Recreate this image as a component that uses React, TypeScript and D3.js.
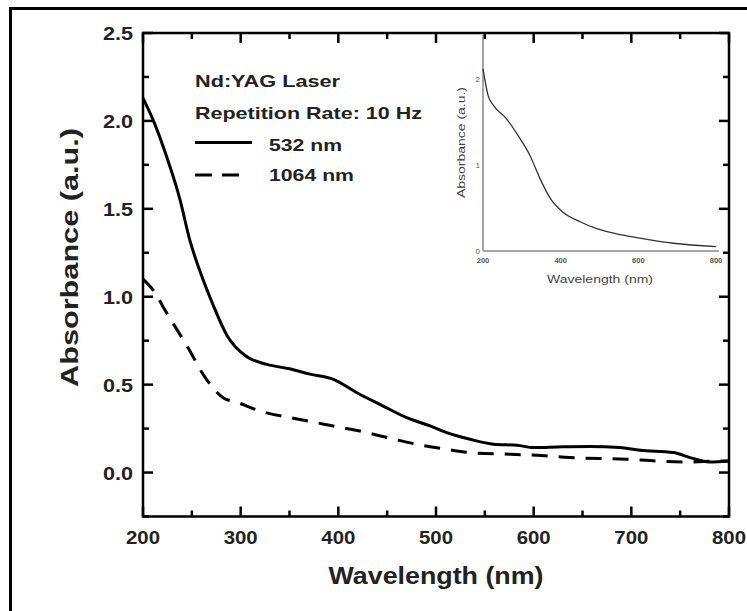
import React from 'react';
import { scaleLinear, line, curveMonotoneX, range } from 'd3';

// main chart: solid = 532 nm, dashed = 1064 nm
const wl532 = [200, 210, 224, 238, 248, 258, 272, 286, 306, 327, 350, 371, 395, 419, 446, 470, 494, 511, 535, 559, 583, 600, 630, 658, 688, 709, 743, 760, 780, 800];
const abs532 = [2.13, 2.01, 1.8, 1.55, 1.32, 1.15, 0.95, 0.78, 0.66, 0.615, 0.59, 0.56, 0.53, 0.454, 0.378, 0.312, 0.265, 0.227, 0.189, 0.161, 0.155, 0.142, 0.147, 0.148, 0.142, 0.127, 0.114, 0.085, 0.06, 0.066];
const wl1064 = [200, 210, 224, 245, 265, 282, 296, 320, 358, 391, 422, 450, 480, 511, 542, 576, 603, 637, 695, 726, 757, 791, 800];
const abs1064 = [1.1, 1.04, 0.91, 0.72, 0.53, 0.426, 0.4, 0.35, 0.305, 0.269, 0.236, 0.199, 0.161, 0.132, 0.11, 0.104, 0.098, 0.085, 0.076, 0.066, 0.06, 0.066, 0.066];

// inset spectrum
const insetWl = [200, 213, 226, 260, 295, 320, 346, 372, 406, 450, 493, 544, 604, 690, 800];
const insetAbs = [2.12, 1.81, 1.7, 1.54, 1.31, 1.12, 0.85, 0.62, 0.45, 0.34, 0.26, 0.2, 0.15, 0.09, 0.05];

const xTicks = [200, 300, 400, 500, 600, 700, 800];
const yTicks = [0, 0.5, 1, 1.5, 2, 2.5];
const insetXTicks = [200, 400, 600, 800];
const insetYTicks = [0, 1, 2];
const legendLines = ['Nd:YAG Laser', 'Repetition Rate: 10 Hz'];
const seriesNames = ['532 nm', '1064 nm'];

const FONT = '"Liberation Sans", Arial, Helvetica, sans-serif';

export default function App() {
  const W = 747;
  const H = 611;

  const x = scaleLinear().domain([200, 800]).range([143, 729]);
  const y = scaleLinear().domain([-0.25, 2.5]).range([516.5, 33]);

  const ix = scaleLinear().domain([200, 800]).range([483, 716]);
  const iy = scaleLinear().domain([0, 2.5]).range([251, 36]);

  const mainLine = line<number>()
    .x((d) => x(d[0]))
    .y((d) => y(d[1]))
    .curve(curveMonotoneX);
  const insetLine = line<number>()
    .x((d) => ix(d[0]))
    .y((d) => iy(d[1]))
    .curve(curveMonotoneX);

  const solidPts = wl532.map((w, i) => [w, abs532[i]]);
  const dashPts = wl1064.map((w, i) => [w, abs1064[i]]);
  const insetPts = insetWl.map((w, i) => [w, insetAbs[i]]);

  const xMinor = range(250, 800, 100);
  const yMinor = range(-0.25, 2.5, 0.5);

  const [x0, x1] = x.range();
  const [y0, y1] = y.range();

  return (
    <svg width={W} height={H} style={{ position: 'absolute', left: 0, top: 0, background: '#fff' }}>
      {/* outer frame */}
      <line x1={10.5} y1={8.5} x2={W} y2={8.5} stroke="#000" strokeWidth={3} />
      <line x1={10.5} y1={7} x2={10.5} y2={H} stroke="#000" strokeWidth={3} />

      {/* inset */}
      <g>
        <line x1={ix(200)} y1={35} x2={ix(200)} y2={iy(0)} stroke="#8a8a8a" strokeWidth={1.5} />
        <line x1={ix(200)} y1={iy(0)} x2={ix(800) + 3} y2={iy(0)} stroke="#8a8a8a" strokeWidth={1.5} />
        <path d={insetLine(insetPts as any) || ''} fill="none" stroke="#333" strokeWidth={1.3} />
        {insetXTicks.map((t) => (
          <text key={t} x={ix(t)} y={263} textAnchor="middle" fontFamily={FONT} fontWeight="bold" fontSize={7.5} fill="#555">
            {t}
          </text>
        ))}
        {insetYTicks.map((t) => (
          <text key={t} x={ix(200) - 3} y={iy(t) + 3} textAnchor="end" fontFamily={FONT} fontSize={8} fill="#555">
            {t}
          </text>
        ))}
        <text x={600} y={283} textAnchor="middle" fontFamily={FONT} fontSize={11} fill="#444" textLength={106} lengthAdjust="spacingAndGlyphs">
          Wavelength (nm)
        </text>
        <text transform="translate(465,142.5) rotate(-90)" textAnchor="middle" fontFamily={FONT} fontSize={11} fill="#444" textLength={111} lengthAdjust="spacingAndGlyphs">
          Absorbance (a.u.)
        </text>
      </g>

      {/* curves */}
      <path d={mainLine(solidPts as any) || ''} fill="none" stroke="#000" strokeWidth={3} />
      <path d={mainLine(dashPts as any) || ''} fill="none" stroke="#000" strokeWidth={3} strokeDasharray="16 11" />

      {/* axes box */}
      <rect x={x0} y={y1} width={x1 - x0} height={y0 - y1} fill="none" stroke="#000" strokeWidth={2.5} />

      {xTicks.map((t) => (
        <g key={'x' + t}>
          <line x1={x(t)} x2={x(t)} y1={y0} y2={y0 - 10} stroke="#000" strokeWidth={2.5} />
          <line x1={x(t)} x2={x(t)} y1={y1} y2={y1 + 10} stroke="#000" strokeWidth={2.5} />
          <text x={x(t)} y={544} textAnchor="middle" fontFamily={FONT} fontWeight="bold" fontSize={19} fill="#222" textLength={34} lengthAdjust="spacingAndGlyphs">
            {t}
          </text>
        </g>
      ))}
      {xMinor.map((t) => (
        <g key={'xm' + t}>
          <line x1={x(t)} x2={x(t)} y1={y0} y2={y0 - 6} stroke="#000" strokeWidth={2.5} />
          <line x1={x(t)} x2={x(t)} y1={y1} y2={y1 + 6} stroke="#000" strokeWidth={2.5} />
        </g>
      ))}
      {yTicks.map((t) => (
        <g key={'y' + t}>
          <line x1={x0} x2={x0 + 10} y1={y(t)} y2={y(t)} stroke="#000" strokeWidth={2.5} />
          <line x1={x1} x2={x1 - 10} y1={y(t)} y2={y(t)} stroke="#000" strokeWidth={2.5} />
          <text x={133} y={y(t) + 7} textAnchor="end" fontFamily={FONT} fontWeight="bold" fontSize={19} fill="#222" textLength={30} lengthAdjust="spacingAndGlyphs">
            {t.toFixed(1)}
          </text>
        </g>
      ))}
      {yMinor.map((t) => (
        <g key={'ym' + t}>
          <line x1={x0} x2={x0 + 6} y1={y(t)} y2={y(t)} stroke="#000" strokeWidth={2.5} />
          <line x1={x1} x2={x1 - 6} y1={y(t)} y2={y(t)} stroke="#000" strokeWidth={2.5} />
        </g>
      ))}

      {/* axis titles */}
      <text x={(x0 + x1) / 2} y={584} textAnchor="middle" fontFamily={FONT} fontWeight="bold" fontSize={24} fill="#222" textLength={215} lengthAdjust="spacingAndGlyphs">
        Wavelength (nm)
      </text>
      <text transform="translate(78,257.5) rotate(-90)" textAnchor="middle" fontFamily={FONT} fontWeight="bold" fontSize={24} fill="#222" textLength={259} lengthAdjust="spacingAndGlyphs">
        Absorbance (a.u.)
      </text>

      {/* legend */}
      <text x={195} y={87} fontFamily={FONT} fontWeight="bold" fontSize={17} fill="#222" textLength={145} lengthAdjust="spacingAndGlyphs">
        {legendLines[0]}
      </text>
      <text x={195} y={119} fontFamily={FONT} fontWeight="bold" fontSize={17} fill="#222" textLength={227} lengthAdjust="spacingAndGlyphs">
        {legendLines[1]}
      </text>
      <line x1={195} x2={252} y1={142.5} y2={142.5} stroke="#000" strokeWidth={3} />
      <text x={269} y={151} fontFamily={FONT} fontWeight="bold" fontSize={17} fill="#222" textLength={73} lengthAdjust="spacingAndGlyphs">
        {seriesNames[0]}
      </text>
      <line x1={195} x2={240} y1={175} y2={175} stroke="#000" strokeWidth={3} strokeDasharray="17 10" />
      <text x={269} y={181} fontFamily={FONT} fontWeight="bold" fontSize={17} fill="#222" textLength={85} lengthAdjust="spacingAndGlyphs">
        {seriesNames[1]}
      </text>
    </svg>
  );
}
